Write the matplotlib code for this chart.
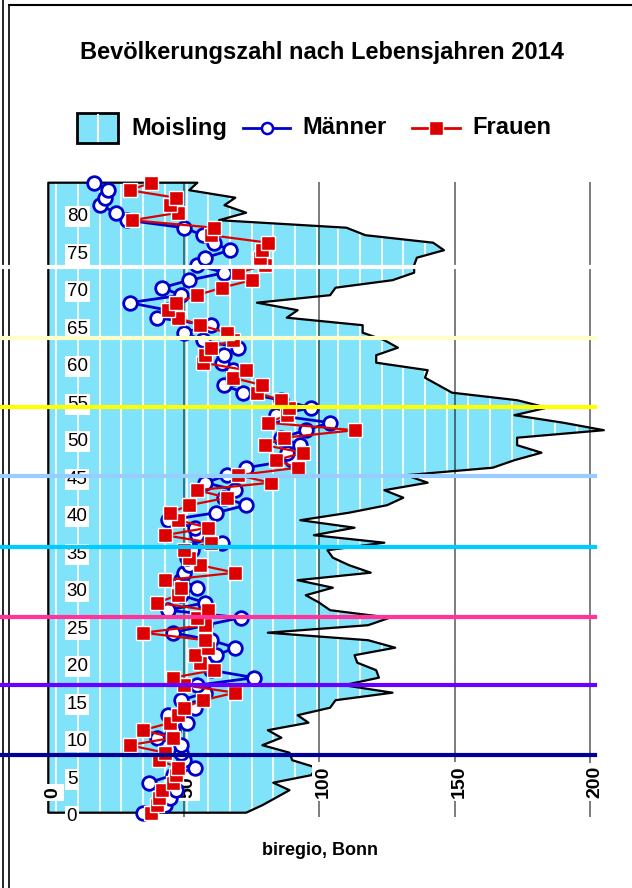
import matplotlib.pyplot as plt
import matplotlib.lines as mlines
import matplotlib.patches as mpatches
import numpy as np

plt.rcParams['font.family'] = ['Liberation Sans', 'DejaVu Sans']

# Einwohner je Lebensjahr 0..84
ages = np.arange(0, 85)
moisling = [73, 79, 84, 89, 83, 97, 99, 90, 89, 79,
            86, 81, 96, 92, 104, 106, 127, 109, 122, 121,
            114, 113, 128, 118, 81, 118, 126, 104, 100, 95,
            105, 92, 119, 111, 105, 103, 124, 98, 113, 93,
            111, 125, 131, 124, 140, 132, 164, 172, 182, 173,
            173, 205, 190, 172, 184, 173, 149, 144, 139, 140,
            121, 121, 129, 124, 116, 116, 88, 92, 77, 104,
            106, 127, 135, 135, 136, 146, 142, 117, 110, 63,
            73, 65, 69, 52, 55]
maenner = [35, 43, 45, 47, 37, 46, 54, 50, 49, 49,
           40, 46, 51, 44, 54, 49, 58, 55, 76, 60,
           58, 62, 69, 60, 46, 58, 71, 44, 58, 49,
           55, 49, 50, 52, 51, 53, 64, 55, 54, 44,
           62, 73, 65, 69, 58, 66, 73, 90, 88, 93,
           86, 95, 104, 84, 97, 86, 72, 65, 68, 68,
           64, 65, 70, 57, 50, 60, 40, 44, 30, 49,
           42, 52, 65, 55, 58, 67, 61, 57, 50, 29,
           25, 19, 21, 22, 17]
frauen = [38, 40, 41, 42, 46, 47, 48, 41, 43, 30,
          46, 35, 45, 48, 50, 57, 69, 50, 46, 61,
          56, 54, 59, 58, 35, 58, 55, 59, 40, 48,
          49, 43, 69, 56, 52, 50, 60, 43, 59, 48,
          45, 52, 66, 55, 82, 70, 92, 84, 94, 80,
          87, 113, 81, 88, 89, 86, 77, 79, 68, 73,
          57, 58, 60, 68, 66, 56, 48, 44, 47, 55,
          64, 75, 70, 80, 78, 79, 81, 60, 61, 31,
          48, 45, 47, 30, 38]

xticks = [0, 50, 100, 150, 200]
yticks = list(range(0, 85, 5))
title = 'Bevölkerungszahl nach Lebensjahren 2014'
source = 'biregio, Bonn'

# farbige Querlinien (Pixelhoehe im Bild)
band_colors = ['white', '#FFFFC8', '#FFFF00', '#99CCFF', '#00CCFF', '#FF3399', '#6600FF', '#000099']
band_px = [266.7, 338.3, 406.7, 475.7, 546.7, 616.7, 685.0, 754.7]

W, H = 632, 888
fig = plt.figure(figsize=(W / 100, H / 100), dpi=100)


def fx(px):
    return px / W


def fy(py):
    return 1 - py / H


cyan = '#80E3F9'
blue = '#0000CC'
red = '#DD0000'

# Plotbereich: Wert 0 -> 48.3 px, 200 -> 590.3 px; Alter 0 -> 812.7 px, 84 -> 182.7 px
ax = fig.add_axes([fx(48.3), fy(812.7), (590.3 - 48.3) / W, (812.7 - 182.7) / H])
ax.set_xlim(0, 200)
ax.set_ylim(0, 84)
ax.axis('off')

# Moisling als Flaeche mit weissen Streifen
fill = ax.fill_betweenx(ages, 0, moisling, facecolor=cyan, edgecolor='none', zorder=1, clip_on=False)
stripes = ax.vlines(np.arange(3, 210, 8), 0, 84, colors='white', lw=1.5, alpha=0.85, zorder=1.5)
stripes.set_clip_path(fill.get_paths()[0], ax.transData)
ax.fill_betweenx(ages, 0, moisling, facecolor='none', edgecolor='black', lw=1.6, zorder=2, clip_on=False)

# Gitterlinien
ax.vlines(xticks[1:], -0.6, 84.15, colors='black', alpha=0.65, lw=1.1, zorder=2.5, clip_on=False)

# Achsenbeschriftungen im Diagramm
for a in yticks:
    ax.text(6.8, a - 0.55, str(a), fontsize=13.5, ha='left', va='center', zorder=3, clip_on=False,
            bbox=dict(boxstyle='square,pad=0.1', fc='white', ec='none'))
for v in xticks:
    ax.text(v + 1.6, 2.0, str(v), rotation=90, fontsize=14, fontweight='bold', ha='center',
            va='bottom', zorder=3, clip_on=False,
            bbox=dict(boxstyle='square,pad=0.15', fc='white', ec='none'))

# Maenner und Frauen
ax.plot(maenner, ages, color=blue, lw=2.0, marker='o', ms=9.8, mfc='white', mec=blue, mew=2.0,
        zorder=4, clip_on=False)
ax.plot(frauen, ages, color=red, lw=1.6, marker='s', ms=10.5, mfc=red, mec='white', mew=1.0,
        zorder=5, clip_on=False)

# Rahmen
fig.add_artist(mlines.Line2D([fx(2.7)] * 2, [0, 1], color='black', lw=1.2, zorder=5))
fig.add_artist(mlines.Line2D([fx(8.5)] * 2, [0, fy(5)], color='black', lw=1.2, zorder=5))
fig.add_artist(mlines.Line2D([fx(8.5), 1], [fy(5)] * 2, color='black', lw=1.5, zorder=5))

# Querlinien ueber allem
for py, c in zip(band_px, band_colors):
    x_end = 1 if c == 'white' else fx(595)
    fig.add_artist(mlines.Line2D([0, x_end], [fy(py)] * 2, color=c, lw=3.0, zorder=10))

# Titel und Legende
fig.text(fx(322), fy(52), title, ha='center', va='center', fontsize=17, fontweight='bold')

fig.add_artist(mpatches.Rectangle((fx(77), fy(143)), 41 / W, 30 / H, transform=fig.transFigure,
                                  facecolor=cyan, edgecolor='black', lw=2, zorder=5))
fig.add_artist(mlines.Line2D([fx(97.5)] * 2, [fy(141), fy(115)], color='white', lw=1.5, zorder=6))
fig.text(fx(131), fy(128), 'Moisling', ha='left', va='center', fontsize=17, fontweight='bold')

fig.add_artist(mlines.Line2D([fx(243), fx(290)], [fy(128)] * 2, color=blue, lw=2, zorder=5))
fig.add_artist(mlines.Line2D([fx(266.5)], [fy(128)], marker='o', ms=8, mfc='white', mec=blue,
                             mew=1.8, zorder=6))
fig.text(fx(302), fy(128), 'Männer', ha='left', va='center', fontsize=17, fontweight='bold')

fig.add_artist(mlines.Line2D([fx(412), fx(460)], [fy(128)] * 2, color=red, lw=2, zorder=5))
fig.add_artist(mlines.Line2D([fx(436)], [fy(128)], marker='s', ms=9.5, mfc=red, mec='white',
                             mew=1.0, zorder=6))
fig.text(fx(472), fy(128), 'Frauen', ha='left', va='center', fontsize=17, fontweight='bold')

fig.text(fx(320), fy(850), source, ha='center', va='center', fontsize=13, fontweight='bold')

fig.savefig('out.png', dpi=100)
